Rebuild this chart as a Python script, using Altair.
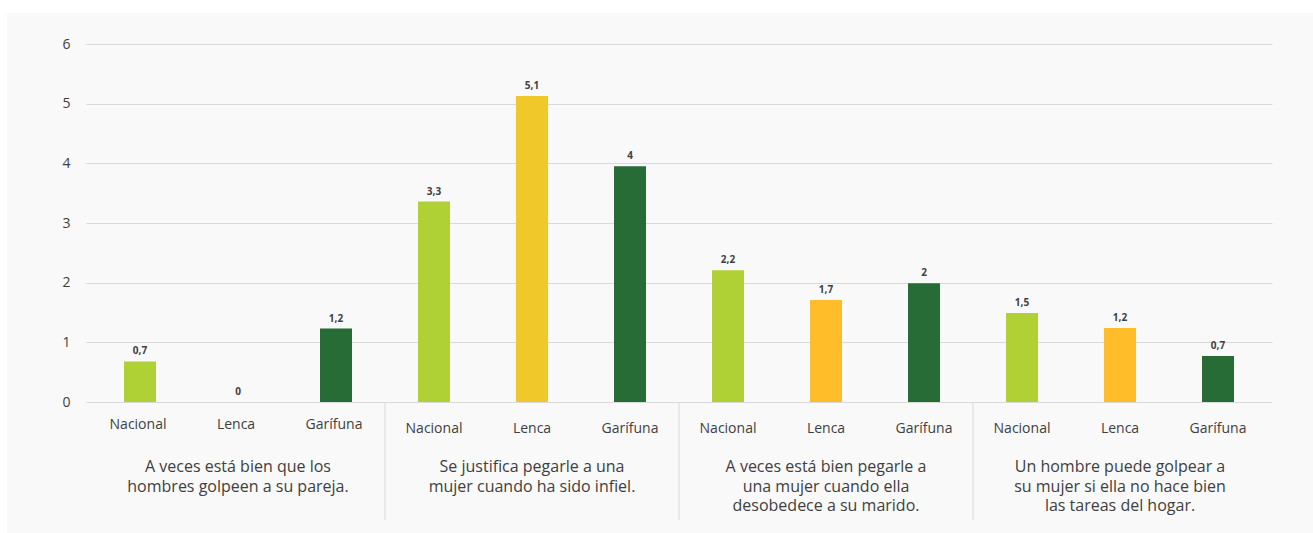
import altair as alt
import pandas as pd

# ---- data ----
group_titles = [
    "A veces está bien que los\nhombres golpeen a su pareja.",
    "Se justifica pegarle a una\nmujer cuando ha sido infiel.",
    "A veces está bien pegarle a\nuna mujer cuando ella\ndesobedece a su marido.",
    "Un hombre puede golpear a\nsu mujer si ella no hace bien\nlas tareas del hogar.",
]
categories = ["Nacional", "Lenca", "Garífuna"]

nacional_values = [0.68, 3.36, 2.21, 1.49]
lenca_values = [0.0, 5.13, 1.71, 1.24]
garifuna_values = [1.23, 3.95, 1.99, 0.77]

nacional_labels = ["0,7", "3,3", "2,2", "1,5"]
lenca_labels = ["0", "5,1", "1,7", "1,2"]
garifuna_labels = ["1,2", "4", "2", "0,7"]

y_ticks = [0, 1, 2, 3, 4, 5, 6]

# colours per category (Lenca has a different shade in the second group)
nacional_colors = ["#AFD136", "#AFD136", "#AFD136", "#AFD136"]
lenca_colors = ["#FFBD29", "#F0C829", "#FFBD29", "#FFBD29"]
garifuna_colors = ["#276B37", "#276B37", "#276B37", "#276B37"]

series_values = [nacional_values, lenca_values, garifuna_values]
series_labels = [nacional_labels, lenca_labels, garifuna_labels]
series_colors = [nacional_colors, lenca_colors, garifuna_colors]

rows = []
for g in range(len(group_titles)):
    for c, cat in enumerate(categories):
        rows.append(
            dict(
                group=g,
                cat=cat,
                pos=g * len(categories) + c + 0.5,
                value=series_values[c][g],
                label=series_labels[c][g],
                color=series_colors[c][g],
            )
        )
df = pd.DataFrame(rows)

n_slots = len(group_titles) * len(categories)
titles_df = pd.DataFrame(
    {
        "pos": [g * len(categories) + len(categories) / 2 for g in range(len(group_titles))],
        "title": group_titles,
    }
)
sep_df = pd.DataFrame({"pos": [g * len(categories) for g in range(1, len(group_titles))]})

W, H = 1186, 358
FONT = "Open Sans"
TXT = "#404040"

xscale = alt.Scale(domain=[0, n_slots], nice=False, zero=False)
x = alt.X("pos:Q", scale=xscale, axis=None)

bars = (
    alt.Chart(df)
    .mark_bar(size=32)
    .encode(
        x=x,
        y=alt.Y(
            "value:Q",
            scale=alt.Scale(domain=[0, 6], nice=False),
            axis=alt.Axis(
                values=y_ticks,
                format="d",
                grid=True,
                gridColor="#D9D9D9",
                gridWidth=1,
                domain=False,
                ticks=False,
                labelFontSize=14,
                labelColor=TXT,
                labelFont=FONT,
                labelPadding=16,
                title=None,
            ),
        ),
        color=alt.Color("color:N", scale=None),
    )
)

value_text = (
    alt.Chart(df)
    .mark_text(font=FONT, fontSize=10, fontWeight="bold", color=TXT, baseline="middle", dy=-10)
    .encode(x=x, y="value:Q", text="label:N")
)

cat_first = (
    alt.Chart(df)
    .transform_filter("datum.group == 0")
    .mark_text(font=FONT, fontSize=14, color=TXT, baseline="middle", dx=-2)
    .encode(x=x, y=alt.value(381), text="cat:N")
)
cat_rest = (
    alt.Chart(df)
    .transform_filter("datum.group > 0")
    .mark_text(font=FONT, fontSize=14, color=TXT, baseline="middle")
    .encode(x=x, y=alt.value(385), text="cat:N")
)

titles = (
    alt.Chart(titles_df)
    .mark_text(font=FONT, fontSize=16, color=TXT, baseline="top", lineBreak="\n", lineHeight=19.5)
    .encode(x=x, y=alt.value(415), text="title:N")
)

seps = (
    alt.Chart(sep_df)
    .mark_rule(color="#D9D9D9", strokeWidth=1)
    .encode(x=x, y=alt.value(H), y2=alt.value(476))
)

one = pd.DataFrame({"k": [0]})
white_top = (
    alt.Chart(one)
    .mark_rect(color="white")
    .encode(x=alt.value(-86), x2=alt.value(1227), y=alt.value(-44), y2=alt.value(-31))
)
white_left = (
    alt.Chart(one)
    .mark_rect(color="white")
    .encode(x=alt.value(-86), x2=alt.value(-79), y=alt.value(-44), y2=alt.value(489))
)

chart = (
    alt.layer(white_top, white_left, seps, bars, value_text, cat_first, cat_rest, titles)
    .properties(
        width=W,
        height=H,
        background="#F9F9F9",
        autosize=alt.AutoSizeParams(type="none"),
        padding={"left": 86, "top": 44, "right": 41, "bottom": 131},
    )
    .configure_view(stroke=None)
)

chart.save("out.html", embed_options={"renderer": "svg", "actions": False})
